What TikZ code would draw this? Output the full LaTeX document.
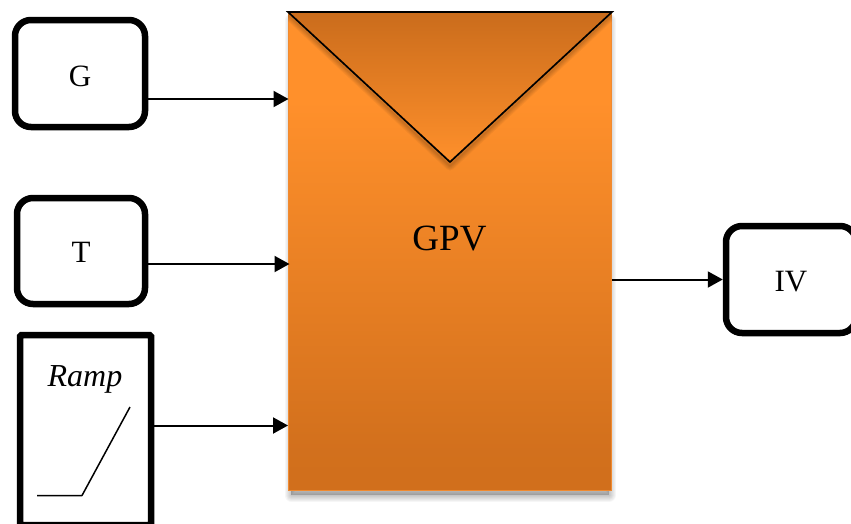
\documentclass[tikz,border=0pt]{standalone}
\usepackage{fontspec}
\setmainfont{Liberation Serif}
\usetikzlibrary{arrows.meta}
\definecolor{orLight}{HTML}{FF902B}
\definecolor{orDark}{HTML}{C76819}
\definecolor{orFlap}{HTML}{CA6C1C}
\definecolor{orEdge}{HTML}{F08A30}
\pgfdeclareverticalshading{gpvshade}{100bp}{color(0bp)=(orDark); color(29.3bp)=(orDark!80!orLight); color(65.8bp)=(orLight); color(100bp)=(orLight)}
\tikzset{
  inbox/.style={draw=black,line width=6.5pt,rounded corners=16pt,fill=white,font=\fontsize{31}{33}\selectfont,inner sep=0pt,text depth=0pt},
  arr/.style={draw=black,line width=2pt,-{Triangle[length=15pt,width=16pt]}},
  gpvbox/.style={draw=orEdge,line width=1.5pt,shading=gpvshade,inner sep=0pt},
  lbl/.style={inner sep=0pt},
  thin shade/.style={line join=round,black,opacity=0.035}
}
\begin{document}
\begin{tikzpicture}[x=1pt,y=-1pt]
\useasboundingbox (0,0) rectangle (851,523);
\clip (0,0) rectangle (851,523);
% soft drop shadow of the block
\foreach \w in {1,3,5,7,9,11,13}{
  \draw[thin shade,line width=\w pt,fill=black] (291,20) rectangle (609,495);
}
\node[gpvbox,minimum width=323pt,minimum height=478pt] (GPV) at (450,251.5) {};
\coordinate (tip) at (450,162);
% soft shadow of the flap
\begin{scope}
\clip (288,12) rectangle (612,491);
\foreach \w in {1,3,5,7,9}{
  \draw[thin shade,opacity=0.045,line width=\w pt] (288,15) -- (450,166) -- (612,15);
}
\end{scope}
\fill[top color=orFlap,bottom color=orLight] (GPV.north west) -- (GPV.north east) -- (tip) -- cycle;
\draw[black,line width=1.7pt,line join=miter] (288,12) -- (612,12) -- (tip) -- cycle;
\node[lbl,font=\fontsize{37}{39}\selectfont] (gpvtext) at (449.5,238.5) {GPV};

\node[inbox,minimum width=130pt,minimum height=107pt,text height=26pt] (G) at (80,73.5) {G};
\node[inbox,minimum width=128pt,minimum height=106pt,text height=23pt] (T) at (81,251) {T};
\node[inbox,minimum width=130pt,minimum height=107pt,text height=24pt] (IV) at (791,279.5) {IV};
\node[draw=black,line width=6.5pt,rounded corners=1.5pt,fill=white,minimum width=131pt,minimum height=190pt,inner sep=0pt] (Ramp) at (85.5,430) {};
\node[lbl,font=\fontsize{32}{34}\selectfont\itshape] (ramptext) at (85,379.5) {Ramp};
\coordinate (r1) at (37,495.5);
\coordinate (r2) at (82,495.5);
\coordinate (r3) at (130,407);
\draw[black,line width=1.5pt,line join=round] (r1) -- (r2) -- (r3);

\coordinate (gIn) at (288.5,99);
\coordinate (tIn) at (289.5,264);
\coordinate (rIn) at (288,425.5);
\coordinate (oOut) at (612,279.5);
\draw[arr] (G.east |- gIn) -- (gIn);
\draw[arr] (T.east |- tIn) -- (tIn);
\draw[arr] (Ramp.east |- rIn) -- (rIn);
\draw[arr] (oOut) -- (IV.west);
\end{tikzpicture}
\end{document}
